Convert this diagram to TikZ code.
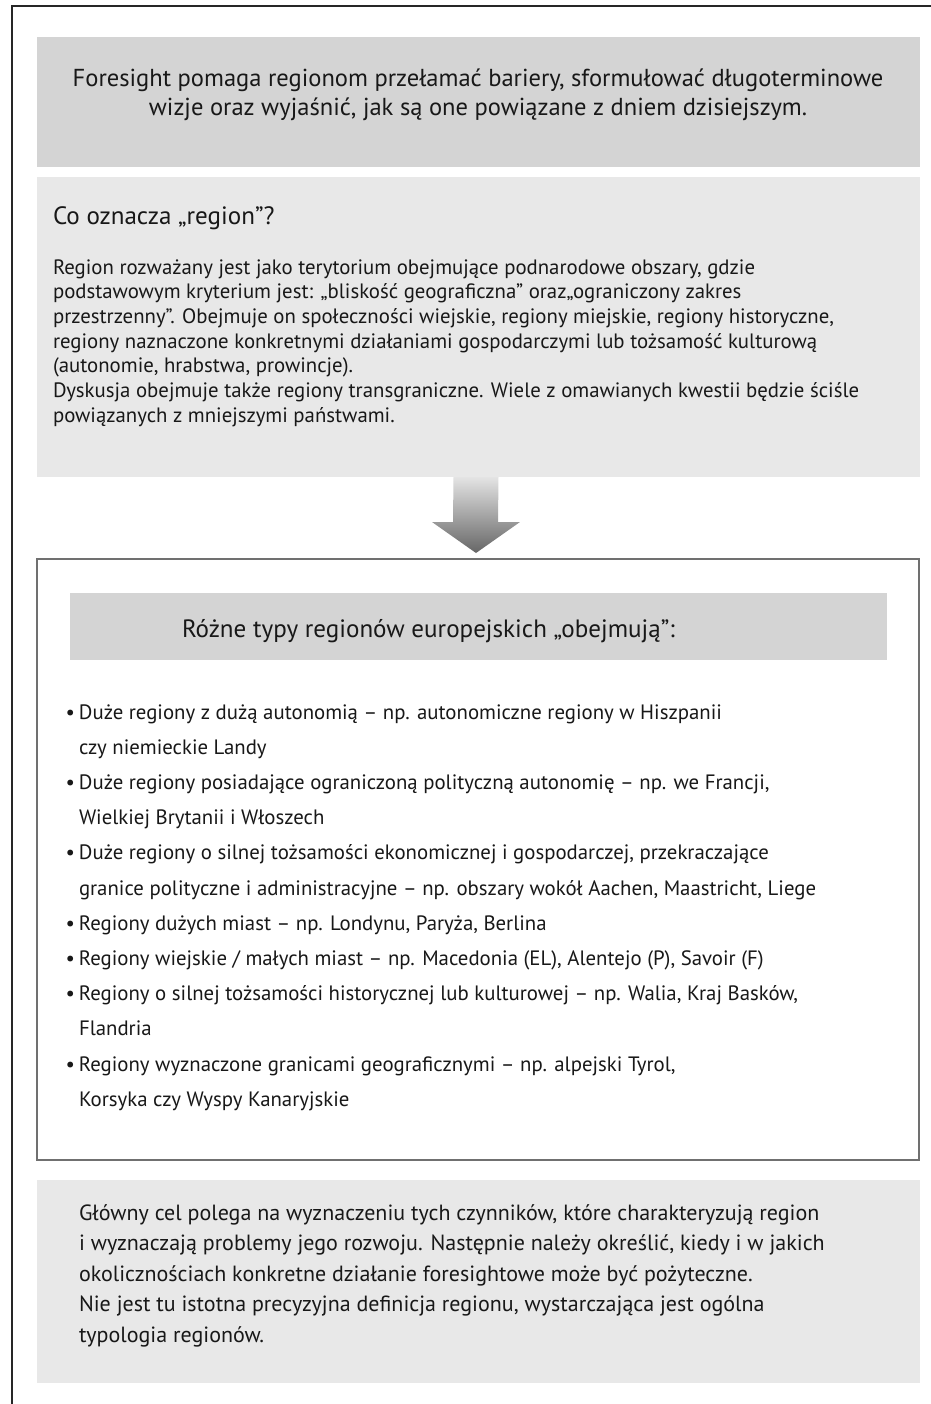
\documentclass[tikz,border=0pt]{standalone}
\usepackage{fontspec}
\setmainfont{PT Sans}
\usetikzlibrary{fit,calc}

\definecolor{panelDark}{HTML}{D4D4D4}
\definecolor{panelLight}{HTML}{E8E8E8}
\definecolor{ink}{HTML}{181818}
\definecolor{rulegray}{HTML}{707070}
\definecolor{arrowTop}{HTML}{E4E4E4}
\definecolor{arrowBottom}{HTML}{666666}

\newcommand\itemdot{\llap{•\kern3pt}}

\begin{document}
\begin{tikzpicture}[x=0.75pt,y=-0.75pt,
  panel/.style={inner sep=0pt, outer sep=0pt, draw=none},
  txt/.style={inner sep=0pt, outer sep=0pt, text=ink},
  introfont/.style={txt, font=\fontsize{18.4pt}{22pt}\selectfont},
  titlefont/.style={txt, font=\fontsize{18.8pt}{22pt}\selectfont},
  parafont/.style={txt, font=\fontsize{15.6pt}{19pt}\selectfont},
  headfont/.style={txt, font=\fontsize{18.8pt}{22pt}\selectfont},
  itemfont/.style={txt, font=\fontsize{15.6pt}{19pt}\selectfont},
  goalfont/.style={txt, font=\fontsize{16.5pt}{19pt}\selectfont}]

\useasboundingbox (0,0) rectangle (931,1404);
\fill[white] (0,0) rectangle (931,1404);

% page frame (only its top and left edges fall on the page)
\coordinate (frameBL) at (12,1420);
\coordinate (frameTL) at (12,6);
\coordinate (frameTR) at (945,6);
\draw[line width=1.3pt, black!85] (frameBL) -- (frameTL) -- (frameTR);

% panels
\node[panel, fill=panelDark,  fit={(37,37) (920,167)}]   (intro) {};
\node[panel, fill=panelLight, fit={(37,177) (920,477)}]  (definition) {};
\node[panel, draw=rulegray, line width=0.9pt, fit={(37,559) (919,1160)}] (types) {};
\node[panel, fill=panelDark,  fit={(70,593) (887,660)}]  (typeshead) {};
\node[panel, fill=panelLight, fit={(37,1180) (920,1383)}] (goal) {};

% block arrow from the definition panel down to the types frame
\coordinate (arrowBase) at ($(definition.south)+(-2,0)$);
\coordinate (arrowTip)  at ($(types.north)+(-2,-6)$);
\shade[top color=arrowTop, bottom color=arrowBottom]
  ($(arrowBase)+(-23,0)$) -- ($(arrowBase)+(22,0)$) --
  ($(arrowTip)+(22,-31)$) -- ($(arrowTip)+(44,-31)$) --
  (arrowTip) --
  ($(arrowTip)+(-44,-31)$) -- ($(arrowTip)+(-23,-31)$) -- cycle;

% intro text
\node[introfont, anchor=base] (intro-1) at (478,86)
  {Foresight pomaga regionom przełamać bariery, sformułować długoterminowe};
\node[introfont, anchor=base] (intro-2) at (478,115)
  {wizje oraz wyjaśnić, jak są one powiązane z dniem dzisiejszym.};

% definition of a region
\node[titlefont, anchor=base west] (def-title) at (53,224) {Co oznacza „region”?};
\foreach \line [count=\i from 0] in {
  {Region rozważany jest jako terytorium obejmujące podnarodowe obszary, gdzie},
  {podstawowym kryterium jest: „bliskość geograficzna” oraz„ograniczony zakres},
  {przestrzenny”. Obejmuje on społeczności wiejskie, regiony miejskie, regiony historyczne,},
  {regiony naznaczone konkretnymi działaniami gospodarczymi lub tożsamość kulturową},
  {(autonomie, hrabstwa, prowincje).},
  {Dyskusja obejmuje także regiony transgraniczne. Wiele z omawianych kwestii będzie ściśle},
  {powiązanych z mniejszymi państwami.}}
  \node[parafont, anchor=base west] (def-\i) at (53,{274+\i*24.7}) {\line};

% types of regions
\node[headfont, anchor=base west] (types-title) at (182,637)
  {Różne typy regionów europejskich „obejmują”:};
\foreach \line [count=\i from 0] in {
  {\itemdot Duże regiony z dużą autonomią – np. autonomiczne regiony w Hiszpanii},
  {czy niemieckie Landy},
  {\itemdot Duże regiony posiadające ograniczoną polityczną autonomię – np. we Francji,},
  {Wielkiej Brytanii i Włoszech},
  {\itemdot Duże regiony o silnej tożsamości ekonomicznej i gospodarczej, przekraczające},
  {granice polityczne i administracyjne – np. obszary wokół Aachen, Maastricht, Liege},
  {\itemdot Regiony dużych miast – np. Londynu, Paryża, Berlina},
  {\itemdot Regiony wiejskie / małych miast – np. Macedonia (EL), Alentejo (P), Savoir (F)},
  {\itemdot Regiony o silnej tożsamości historycznej lub kulturowej – np. Walia, Kraj Basków,},
  {Flandria},
  {\itemdot Regiony wyznaczone granicami geograficznymi – np. alpejski Tyrol,},
  {Korsyka czy Wyspy Kanaryjskie}}
  \node[itemfont, anchor=base west] (item-\i) at (79,{719+\i*35.2}) {\line};

% main goal
\foreach \line [count=\i from 0] in {
  {Główny cel polega na wyznaczeniu tych czynników, które charakteryzują region},
  {i wyznaczają problemy jego rozwoju. Następnie należy określić, kiedy i w jakich},
  {okolicznościach konkretne działanie foresightowe może być pożyteczne.},
  {Nie jest tu istotna precyzyjna definicja regionu, wystarczająca jest ogólna},
  {typologia regionów.}}
  \node[goalfont, anchor=base west] (goal-\i) at (79,{1220+\i*30.6}) {\line};

\end{tikzpicture}
\end{document}
